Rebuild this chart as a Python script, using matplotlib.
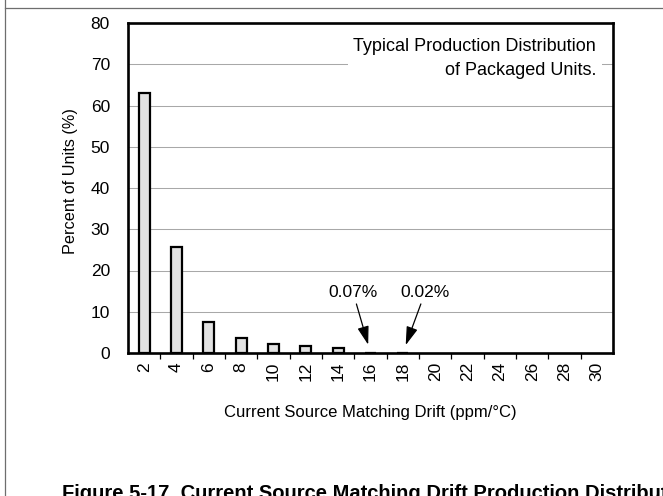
import matplotlib
matplotlib.use("Agg")
import matplotlib.pyplot as plt
from matplotlib.lines import Line2D
from matplotlib.ticker import FixedLocator

plt.rcParams['font.family'] = ['Liberation Sans', 'DejaVu Sans']

# Distribution of current source matching drift
drift_labels = ["2", "4", "6", "8", "10", "12", "14", "16", "18",
                "20", "22", "24", "26", "28", "30"]
percent_units = [63.0, 25.7, 7.5, 3.7, 2.2, 1.6, 1.2, 0.07, 0.02,
                 0, 0, 0, 0, 0, 0]
y_ticks = [0, 10, 20, 30, 40, 50, 60, 70, 80]
callouts = {"16": "0.07%", "18": "0.02%"}

W, H = 663, 496
fig = plt.figure(figsize=(W / 100, H / 100), dpi=100)

# page frame lines
fig.add_artist(Line2D([5 / W, 1], [1 - 8 / H, 1 - 8 / H], color="#6e6e6e", lw=0.9))
fig.add_artist(Line2D([5 / W, 5 / W], [0, 1], color="#6e6e6e", lw=0.9))

ax_l, ax_r, ax_t, ax_b = 128, 613, 23, 353
ax = fig.add_axes([ax_l / W, 1 - ax_b / H, (ax_r - ax_l) / W, (ax_b - ax_t) / H])

x = list(range(len(drift_labels)))
bars = [(xi, v) for xi, v in zip(x, percent_units) if v > 0]
ax.bar([b[0] for b in bars], [b[1] for b in bars], width=0.33,
       color="#e2e2e2", edgecolor="black", linewidth=1.6, zorder=3)

ax.set_xlim(-0.5, len(drift_labels) - 0.5)
ax.set_ylim(0, 80)

ax.set_yticks(y_ticks)
ax.set_yticklabels([str(t) for t in y_ticks])
ax.tick_params(axis="y", length=0, pad=13, labelsize=12.5)
for t in y_ticks[1:-1]:
    ax.axhline(t, color="#a8a8a8", lw=0.75, zorder=1)

ax.set_xticks(x)
ax.set_xticklabels(drift_labels, rotation=90)
ax.tick_params(axis="x", which="major", length=0, pad=6.5, labelsize=12.5)
ax.xaxis.set_minor_locator(FixedLocator([i + 0.5 for i in x[:-1]]))
ax.tick_params(axis="x", which="minor", length=4.5, width=0.9, direction="out")

for s in ax.spines.values():
    s.set_linewidth(1.9)

ax.text(0.965, 0.893, "Typical Production Distribution\nof Packaged Units.",
        transform=ax.transAxes, ha="right", va="center", fontsize=13,
        linespacing=1.55, zorder=5,
        bbox=dict(facecolor="white", edgecolor="none", pad=4))

# value callouts with arrows
text_x = {"16": 6.46, "18": 8.69}
for key, label in callouts.items():
    idx = drift_labels.index(key)
    ax.annotate(label, xy=(idx, percent_units[idx]), xytext=(text_x[key], 14.7),
                ha="center", va="center", fontsize=12.5,
                arrowprops=dict(arrowstyle="-|>,head_length=0.9,head_width=0.28",
                                color="black", lw=0.9, shrinkA=1, shrinkB=6))

fig.text(70 / W, 1 - 181 / H, "Percent of Units (%)", rotation=90,
         ha="center", va="center", fontsize=11.7)
fig.text(((ax_l + ax_r) / 2) / W, 1 - 413 / H, "Current Source Matching Drift (ppm/°C)",
         ha="center", va="center", fontsize=12)
fig.text(62 / W, 1 - 484 / H, "Figure 5-17. Current Source Matching Drift Production Distribution",
         ha="left", va="top", fontsize=14.5, fontweight="bold")

fig.savefig("out.png", dpi=100)
